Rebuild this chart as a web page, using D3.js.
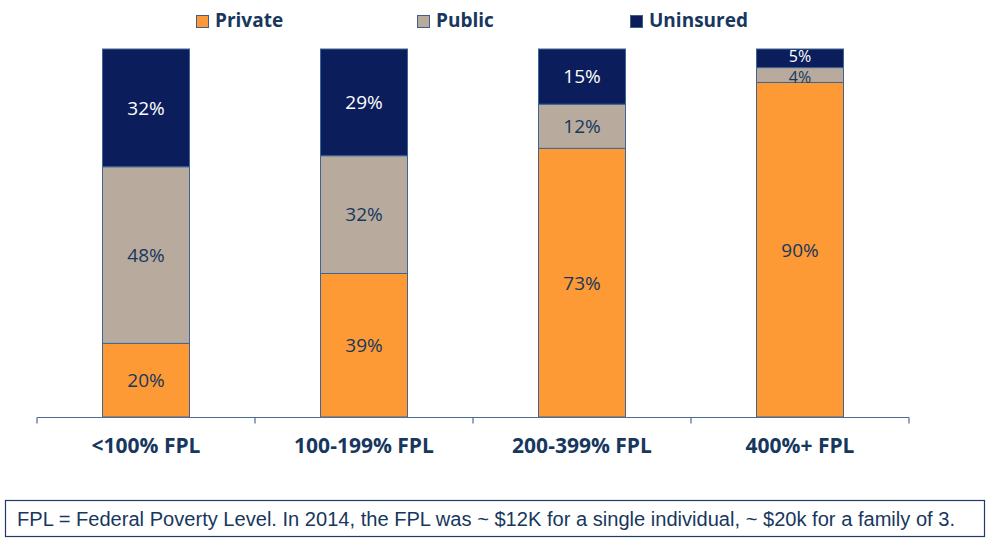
<!DOCTYPE html>
<meta charset="utf-8">
<html>
    <head>
        <style>
            body { margin: 0; background: #fff; }
            text { font-family: "Open Sans", "Liberation Sans", sans-serif; }
        </style>
        <script src="https://d3js.org/d3.v7.min.js"></script>
    </head>
    <body>
        <script>

            // Chart data
            var categories = ["<100% FPL", "100-199% FPL", "200-399% FPL", "400%+ FPL"];
            var seriesNames = ["Private", "Public", "Uninsured"];
            var privateVals = [20, 39, 73, 90];
            var publicVals = [48, 32, 12, 4];
            var uninsuredVals = [32, 29, 15, 5];
            var note = "FPL = Federal Poverty Level.  In 2014, the FPL was ~ $12K for a single individual, ~ $20k for a family of 3.";

            var colors = ["#FD9A35", "#B8AB9D", "#0B1E5B"];
            var labelColors = ["#17375E", "#17375E", "#ffffff"];
            var navy = "#17375E";

            var width = 996, height = 547;
            var margin = {left: 37, right: 87, top: 49, bottom: 130};

            var svg = d3.select("body")
                .append("svg")
                .attr("width", width)
                .attr("height", height);

            // table built from the arrays
            var rows = categories.map(function(c, i) {
                return {cat: c, Private: privateVals[i], Public: publicVals[i], Uninsured: uninsuredVals[i]};
            });

            var stack = d3.stack().keys(seriesNames).offset(d3.stackOffsetExpand);
            var layers = stack(rows);

            var x = d3.scaleBand()
                .domain(categories)
                .range([margin.left, width - margin.right]);

            var y = d3.scaleLinear()
                .domain([0, 1])
                .range([height - margin.bottom, margin.top]);

            var barW = 87;

            // bars
            var g = svg.selectAll("g.layer")
                .data(layers)
                .enter().append("g")
                .attr("class", "layer");

            g.selectAll("rect")
                .data(function(d, i) { return d.map(function(p) { p.si = i; return p; }); })
                .enter().append("rect")
                .attr("x", function(d) { return x(d.data.cat) + x.bandwidth() / 2 - barW / 2; })
                .attr("y", function(d) { return y(d[1]); })
                .attr("width", barW)
                .attr("height", function(d) { return y(d[0]) - y(d[1]); })
                .attr("fill", function(d) { return colors[d.si]; })
                .attr("stroke", "#3E6595")
                .attr("stroke-width", 1);

            // value labels; thin segments get a smaller label nudged apart so they don't collide
            function thin(d) { return (y(d[0]) - y(d[1])) < 22; }
            g.selectAll("text")
                .data(function(d, i) { return d.map(function(p) { p.si = i; return p; }); })
                .enter().append("text")
                .attr("x", function(d) { return x(d.data.cat) + x.bandwidth() / 2; })
                .attr("y", function(d) {
                    var mid = (y(d[0]) + y(d[1])) / 2;
                    if (thin(d)) mid += (d.si == 2 ? -2 : 2);
                    return mid;
                })
                .attr("dy", "0.36em")
                .attr("text-anchor", "middle")
                .attr("font-size", function(d) { return thin(d) ? 16 : 19; })
                .attr("fill", function(d) { return labelColors[d.si]; })
                .text(function(d) { return d.data[seriesNames[d.si]] + "%"; });

            // x axis
            var axis = svg.append("g")
                .attr("transform", "translate(0," + (height - margin.bottom + 0.5) + ")");
            axis.append("line")
                .attr("x1", margin.left).attr("x2", width - margin.right)
                .attr("stroke", "#4E6C90").attr("stroke-width", 1.2);
            var ticks = x.domain().map(function(c) { return x(c); }).concat([width - margin.right]);
            axis.selectAll("line.tick")
                .data(ticks)
                .enter().append("line")
                .attr("class", "tick")
                .attr("x1", function(d) { return d; }).attr("x2", function(d) { return d; })
                .attr("y1", 0).attr("y2", 6)
                .attr("stroke", "#4E6C90").attr("stroke-width", 1.2);
            axis.selectAll("text")
                .data(categories)
                .enter().append("text")
                .attr("x", function(d) { return x(d) + x.bandwidth() / 2; })
                .attr("y", 35)
                .attr("text-anchor", "middle")
                .attr("font-size", 21)
                .attr("font-weight", "bold")
                .attr("fill", navy)
                .text(function(d) { return d; });

            // legend
            var legendX = [196, 417, 630];
            var leg = svg.selectAll("g.legend")
                .data(seriesNames)
                .enter().append("g")
                .attr("class", "legend")
                .attr("transform", function(d, i) { return "translate(" + legendX[i] + ",15)"; });
            leg.append("rect")
                .attr("x", 0.5).attr("y", 0.5)
                .attr("width", 12).attr("height", 12)
                .attr("fill", function(d, i) { return colors[i]; })
                .attr("stroke", "#3E5F8A");
            leg.append("text")
                .attr("x", 19)
                .attr("y", 12)
                .attr("font-size", 19)
                .attr("font-weight", "bold")
                .attr("fill", navy)
                .text(function(d) { return d; });

            // footnote box
            svg.append("rect")
                .attr("x", 5.5).attr("y", 500.5)
                .attr("width", 979).attr("height", 36)
                .attr("fill", "none")
                .attr("stroke", "#1F3A66")
                .attr("stroke-width", 1.2);
            svg.append("text")
                .attr("x", 17)
                .attr("y", 526)
                .attr("font-size", 20)
                .attr("fill", navy)
                .attr("textLength", 938)
                .attr("lengthAdjust", "spacingAndGlyphs")
                .style("font-family", "'Liberation Sans Narrow', 'Liberation Sans', sans-serif")
                .text(note);

        </script>
    </body>
</html>
